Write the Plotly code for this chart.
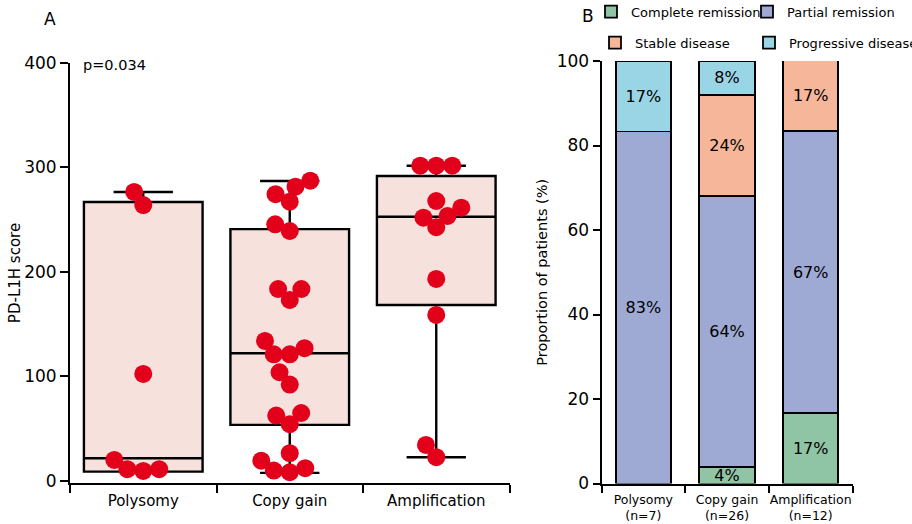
import math
import plotly.graph_objects as go

# ---------------- data: panel A (PD-L1H score by HER2 status) ----------------
groups = ["Polysomy", "Copy gain", "Amplification"]
polysomy_scores = [264, 276.6, 102.4, 20.1, 11.2, 9.6, 11.2]
copy_gain_scores = [281.6, 287.4, 274.4, 267.3, 245.6, 239.2, 183.7, 183.7, 173.2,
                    134, 121.2, 121.2, 127, 104, 92.2, 62.5, 65, 54.3, 26.5, 12.2,
                    8.3, 9.9, 19.4]
amplification_scores = [301.7, 301.7, 301.7, 261.5, 267.9, 252, 253.6, 242.8,
                        193.3, 158.9, 34.4, 22.7]
box_q1 = [8.9, 53.6, 168.4]
box_median = [21.7, 122.2, 252.9]
box_q3 = [267, 241, 291.9]
box_lower = [8.9, 7.7, 22.7]
box_upper = [276.6, 287, 301.7]
y_ticks_a = [0, 100, 200, 300, 400]
p_value_text = "p=0.034"

# ---------------- data: panel B (response proportions) ----------------
bar_categories = ["Polysomy<br>(n=7)", "Copy gain<br>(n=26)", "Amplification<br>(n=12)"]
complete_remission = [0, 4, 16.7]
partial_remission = [83.3, 64, 66.7]
stable_disease = [0, 24, 16.7]
progressive_disease = [16.7, 8, 0]
series_names = ["Complete remission", "Partial remission", "Stable disease", "Progressive disease"]
y_ticks_b = [0, 20, 40, 60, 80, 100]

# ---------------- layout constants ----------------
W, H = 912, 524
A_X0, A_X1, A_Y0, A_Y1 = 70, 509.5, 63, 483     # pixel box of panel A plot area
B_X0, B_X1, B_Y0, B_Y1 = 601.5, 852.5, 61, 483.5
A_YRANGE = [-2, 400]
X_PX_PER_UNIT = (A_X1 - A_X0) / 3.0
Y_PX_PER_UNIT = (A_Y1 - A_Y0) / (A_YRANGE[1] - A_YRANGE[0])

RED = "#e2001a"
BOX_FILL = "#f6e1dd"
COLORS = ["#8fc4a4", "#9eaad4", "#f5b699", "#9ad5e6"]


def swarm_offsets(values, sep_px=16.0):
    """Greedy beeswarm: returns x offsets (in axis units) so markers don't overlap."""
    order = sorted(range(len(values)), key=lambda i: values[i])
    placed = []
    offs = [0.0] * len(values)
    for i in order:
        y = values[i] * Y_PX_PER_UNIT
        cands = [0.0]
        for px, py in placed:
            dy = abs(py - y)
            if dy < sep_px:
                dx = math.sqrt(sep_px ** 2 - dy ** 2)
                cands += [px + dx, px - dx]
        cands.sort(key=lambda c: (round(abs(c), 6), c))
        for c in cands:
            if all((c - px) ** 2 + (y - py) ** 2 >= sep_px ** 2 - 1e-6 for px, py in placed):
                placed.append((c, y))
                offs[i] = c / X_PX_PER_UNIT
                break
    return offs


fig = go.Figure()

# boxes
for i, g in enumerate(groups):
    fig.add_trace(go.Box(
        x=[i], q1=[box_q1[i]], median=[box_median[i]], q3=[box_q3[i]],
        lowerfence=[box_lower[i]], upperfence=[box_upper[i]],
        width=0.81, whiskerwidth=0.5, boxpoints=False,
        fillcolor=BOX_FILL, line=dict(color="black", width=2.4),
        showlegend=False, hoverinfo="skip", xaxis="x", yaxis="y", name=g,
    ))

# points
for i, vals in enumerate([polysomy_scores, copy_gain_scores, amplification_scores]):
    offs = swarm_offsets(vals)
    fig.add_trace(go.Scatter(
        x=[i + o for o in offs], y=vals, mode="markers",
        marker=dict(size=18, color=RED, line=dict(width=0)),
        showlegend=False, xaxis="x", yaxis="y", name=groups[i],
    ))

# stacked bars
for k, (name, vals) in enumerate(zip(series_names,
                                     [complete_remission, partial_remission,
                                      stable_disease, progressive_disease])):
    fig.add_trace(go.Bar(
        x=bar_categories, y=[v if v else None for v in vals],
        name=name, marker=dict(color=COLORS[k], line=dict(color="black", width=1.8)),
        text=[f"{round(v)}%" if v else "" for v in vals],
        textposition="inside", insidetextanchor="middle", constraintext="none",
        textangle=0, textfont=dict(size=16, color="black"),
        xaxis="x2", yaxis="y2",
        legend="legend" if k < 2 else "legend2",
        legendwidth=140 if k == 3 else None,
    ))

axis_common = dict(showline=True, linecolor="black", linewidth=2, showgrid=False,
                   zeroline=False, tickcolor="black", tickwidth=2, automargin=False)

fig.update_layout(
    width=W, height=H, margin=dict(l=0, r=0, t=0, b=0, autoexpand=False),
    paper_bgcolor="white", plot_bgcolor="white",
    font=dict(family="DejaVu Sans", color="black"),
    barmode="stack", bargap=0.34,
    xaxis=dict(domain=[A_X0 / W, A_X1 / W], range=[-0.5, 2.5], anchor="y",
               tickvals=[0, 1, 2], ticktext=groups, ticks="", tickangle=0,
               tickfont=dict(size=15), ticklabelstandoff=3,
               minor=dict(tickvals=[-0.5, 0.5, 1.5, 2.5], ticks="outside",
                          ticklen=8, tickwidth=2, tickcolor="black"),
               **axis_common),
    yaxis=dict(domain=[1 - A_Y1 / H, 1 - A_Y0 / H], range=A_YRANGE, anchor="x",
               tickvals=y_ticks_a, ticks="outside", ticklen=8,
               tickfont=dict(size=17),
               title=dict(text="PD-L1H score", font=dict(size=15), standoff=0),
               **axis_common),
    xaxis2=dict(domain=[B_X0 / W, B_X1 / W], anchor="y2", type="category",
                tickson="boundaries", ticks="outside", ticklen=7, tickangle=0,
                tickfont=dict(size=12.5), ticklabelstandoff=3, **axis_common),
    yaxis2=dict(domain=[1 - B_Y1 / H, 1 - B_Y0 / H], anchor="x2", range=[0, 100],
                tickvals=y_ticks_b, ticks="outside", ticklen=7,
                tickfont=dict(size=17),
                title=dict(text="Proportion of patients (%)", font=dict(size=14.5), standoff=6),
                **axis_common),
    legend=dict(orientation="h", x=591 / W, xanchor="left", y=1 - 11.7 / H,
                yanchor="middle", entrywidth=111, font=dict(size=13),
                bgcolor="rgba(0,0,0,0)", traceorder="normal"),
    legend2=dict(orientation="h", x=595 / W, xanchor="left", y=1 - 42.7 / H,
                 yanchor="middle", entrywidth=109, font=dict(size=13),
                 bgcolor="rgba(0,0,0,0)", traceorder="normal"),
    annotations=[
        dict(text="A", x=50 / W, y=1 - 18.5 / H, xref="paper", yref="paper",
             showarrow=False, font=dict(size=17), xanchor="center", yanchor="middle"),
        dict(text="B", x=588 / W, y=1 - 16 / H, xref="paper", yref="paper",
             showarrow=False, font=dict(size=17), xanchor="center", yanchor="middle"),
        dict(text=p_value_text, x=81 / W, y=1 - 65 / H, xref="paper", yref="paper",
             showarrow=False, font=dict(size=14.5), xanchor="left", yanchor="middle"),
    ],
)

# the page's default body margin would offset the fixed-size figure by 8px
fig.write_html(
    "out.html",
    config={"displayModeBar": False},
    post_script="document.body.style.margin='0';document.body.style.overflow='hidden';",
)
